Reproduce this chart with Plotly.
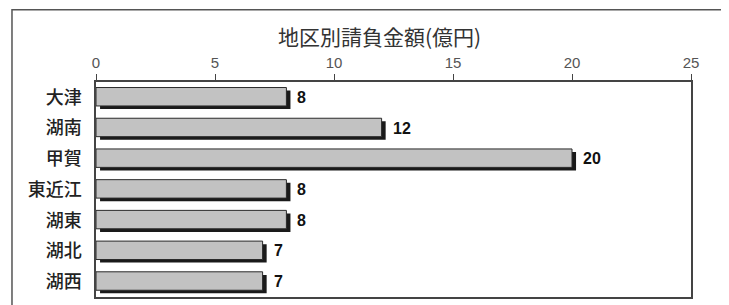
import plotly.graph_objects as go

regions = ["大津", "湖南", "甲賀", "東近江", "湖東", "湖北", "湖西"]
amounts = [8, 12, 20, 8, 8, 7, 7]
x_ticks = [0, 5, 10, 15, 20, 25]
title_text = "地区別請負金額(億円)"

fig = go.Figure()

# drop shadow behind each bar
fig.add_trace(go.Bar(
    y=regions, x=amounts, orientation="h", base=0.17,
    width=0.6, offset=-0.22,
    marker=dict(color="#1a1a1a", line=dict(width=0)),
    hoverinfo="skip", showlegend=False,
))
# bar faces
fig.add_trace(go.Bar(
    y=regions, x=amounts, orientation="h",
    width=0.6, offset=-0.32,
    marker=dict(color="#c2c2c2", line=dict(color="#2a2a2a", width=1)),
    showlegend=False,
))

for r, v in zip(regions, amounts):
    fig.add_annotation(
        x=v, y=r, text=str(v), showarrow=False, xanchor="left",
        xshift=9, yshift=0,
        font=dict(family="Liberation Sans Narrow, Liberation Sans, Arial", size=16,
                  color="#111", weight="bold"),
    )

# outer frame
fig.add_shape(type="rect", xref="paper", yref="paper",
              x0=-0.1412, x1=1.08, y0=-0.06, y1=1.336,
              line=dict(color="#555", width=1.5), fillcolor="rgba(0,0,0,0)",
              layer="below")

fig.add_annotation(
    xref="paper", yref="paper", x=0.477, y=1.214, yanchor="middle",
    text=title_text, showarrow=False,
    font=dict(family="Noto Sans CJK JP", size=21, color="#333"),
)

fig.update_layout(
    width=721, height=297,
    margin=dict(l=88, r=38, t=74, b=6),
    paper_bgcolor="white", plot_bgcolor="white",
    barmode="overlay",
    xaxis=dict(
        range=[0, 25], tickvals=x_ticks, side="top",
        ticks="outside", ticklen=6, tickcolor="#444", tickwidth=1,
        showgrid=False, zeroline=False,
        showline=True, mirror=True, linecolor="#444", linewidth=1.5,
        tickfont=dict(family="Liberation Sans Narrow, Liberation Sans", size=15, color="#555"),
    ),
    yaxis=dict(
        autorange="reversed", ticks="", showgrid=False,
        showline=True, mirror=True, linecolor="#444", linewidth=1.5,
        ticklabelstandoff=9,
        tickfont=dict(family="Noto Sans CJK JP", size=18, color="#222", weight=500),
    ),
)

fig.write_html("out.html")
